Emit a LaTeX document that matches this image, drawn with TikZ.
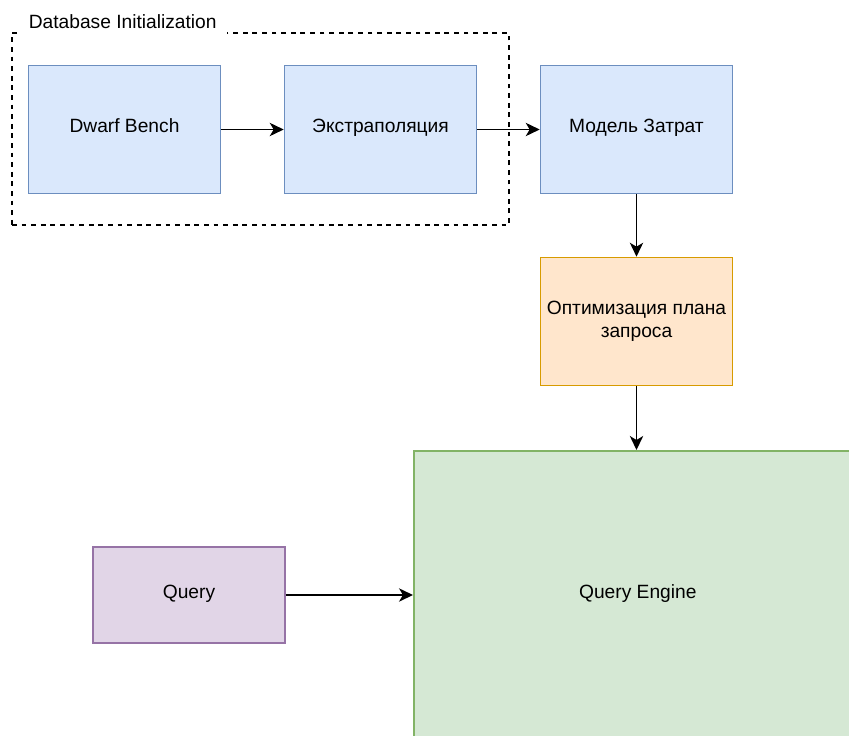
\documentclass[tikz,border=0pt]{standalone}
\usepackage{fontspec}
\setmainfont{Liberation Sans}
\usetikzlibrary{arrows.meta, positioning}

\definecolor{stageFill}{HTML}{DAE8FC}
\definecolor{stageLine}{HTML}{6C8EBF}
\definecolor{optFill}{HTML}{FFE6CC}
\definecolor{optLine}{HTML}{D79B00}
\definecolor{engineFill}{HTML}{D5E8D4}
\definecolor{engineLine}{HTML}{82B366}
\definecolor{queryFill}{HTML}{E1D5E7}
\definecolor{queryLine}{HTML}{9673A6}

\begin{document}
\begin{tikzpicture}[
    x=0.75pt, y=-0.75pt,
    ->,
    >={Stealth[length=10.5pt, width=10pt, inset=3pt]},
    line width=1.2pt,
    node distance=192pt,
    on grid,
    font=\fontsize{14.4}{17}\selectfont,
    stage/.style={rectangle, draw=stageLine, fill=stageFill, minimum width=144pt, minimum height=96pt, text height=0.7em, text depth=0.2em},
    optbox/.style={rectangle, draw=optLine, fill=optFill, minimum width=144pt, minimum height=96pt, align=center},
    engine/.style={rectangle, draw=engineLine, fill=engineFill, minimum width=336pt, minimum height=216pt, text height=0.7em, text depth=0.2em},
    querybox/.style={rectangle, draw=queryLine, fill=queryFill, minimum width=144pt, minimum height=72pt, text height=0.7em, text depth=0.2em},
    initgroup/.style={rectangle, draw=black, dash pattern=on 3.6pt off 3.6pt, minimum width=372.75pt, minimum height=144pt},
]

    \path[use as bounding box, clip] (0,0) rectangle (849,735);

    % database initialization group
    \node[initgroup] (init) at (260.5,129) {};
    \node[fill=white, anchor=west, inner xsep=7.5pt, inner ysep=4pt] (initlabel) at (18,22) {Database Initialization};

    \node[stage]                  (bench)     at (124.5,129.5) {Dwarf Bench};
    \node[stage, right=of bench]  (extrap)    {Экстраполяция};
    \node[stage, right=of extrap] (costmodel) {Модель Затрат};
    \node[optbox, below=144pt of costmodel] (planopt) {Оптимизация плана\\запроса};

    \node[engine, anchor=north west] (qengine) at (413,450) {Query Engine};
    \node[querybox]                  (query)   at (189,595) {Query};

    \path
        (bench)     edge (extrap)
        (extrap)    edge (costmodel)
        (costmodel) edge (planopt)
        (planopt)   edge (planopt |- qengine.north)
        (query)     edge (query -| qengine.west)
    ;
\end{tikzpicture}
\end{document}
